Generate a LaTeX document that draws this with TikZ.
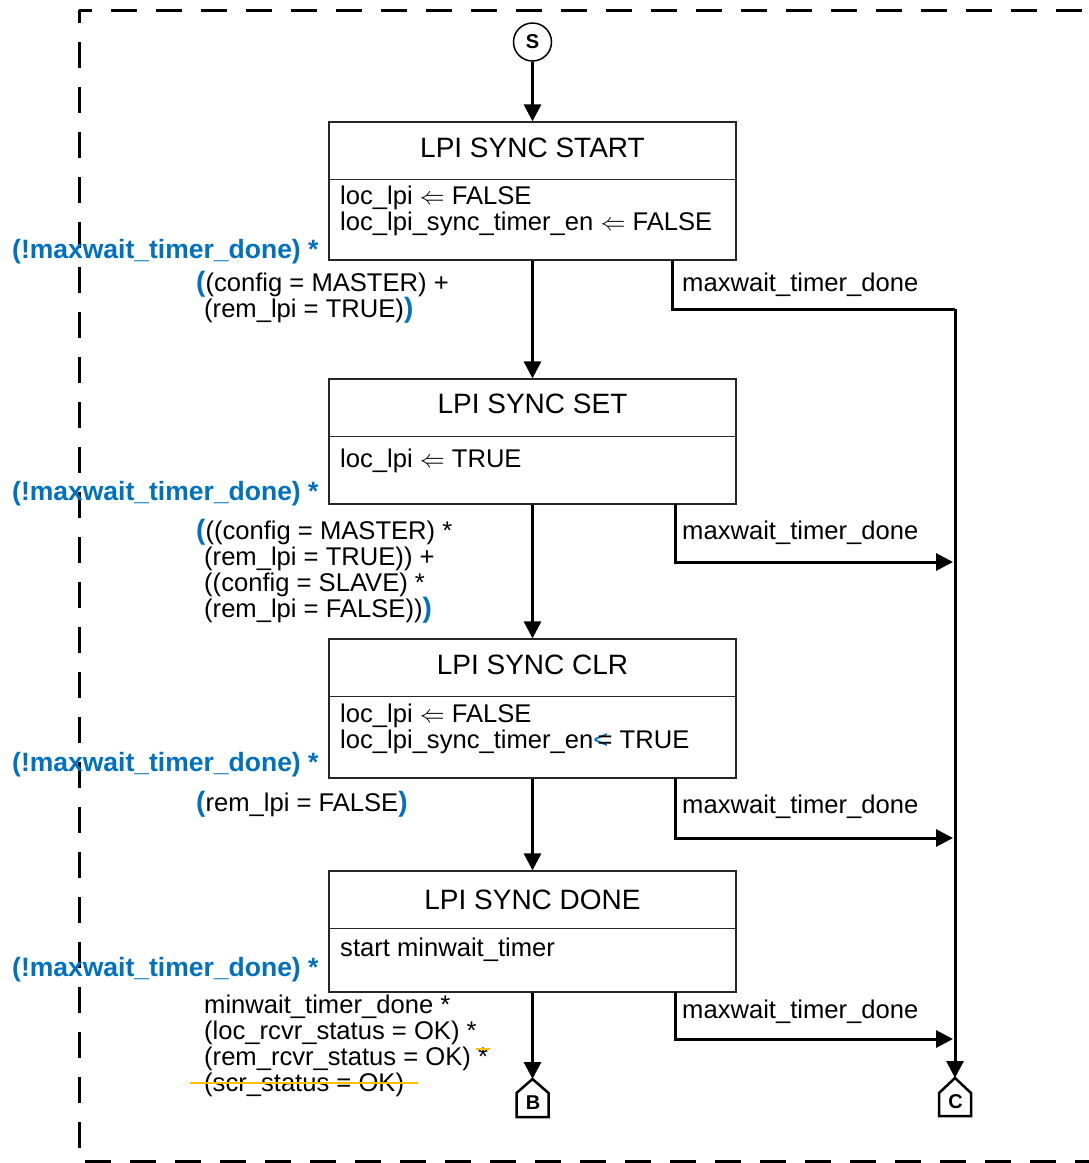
\documentclass[tikz,border=0pt]{standalone}
\usepackage{fontspec}
\setmainfont{Liberation Sans}
\usetikzlibrary{arrows.meta,calc}
\definecolor{cblue}{RGB}{0,112,192}
\definecolor{corange}{RGB}{255,192,0}
\begin{document}
\begin{tikzpicture}[x=1pt,y=-1pt,
  statebox/.style={draw=black!85, line width=1.3pt, minimum width=407pt, inner sep=0},
  divider/.style={draw=black!85, line width=1.3pt},
  titletext/.style={font=\fontsize{28}{32}\selectfont, inner sep=0, anchor=base},
  bodytext/.style={font=\fontsize{25.6}{30}\selectfont, inner sep=0, anchor=base west},
  guard/.style={font=\fontsize{26.5}{30}\selectfont\bfseries, text=cblue, inner sep=0, anchor=base west},
  conn/.style={line width=3pt, -{Triangle[width=17pt,length=17pt]}},
  wire/.style={line width=3pt},
  frame/.style={line width=3pt, dash pattern=on 26pt off 19pt, dash phase=13pt},
  strike/.style={draw=corange, line width=2.5pt},
  offpage/.style={draw, line width=2.5pt, fill=white, line join=miter}
]
\useasboundingbox (0,0) rectangle (1089,1163);

% dashed enclosure
\draw[frame] (79,10) -- (1110,10);
\draw[frame] (79,10) -- (79,1161) -- (1110,1161);

% start marker
\node[circle, draw, line width=1.5pt, minimum size=38pt, inner sep=0,
      font=\fontsize{20}{22}\selectfont\bfseries] (s) at (532.5,42) {S};

% states
\node[statebox, minimum height=138pt] (b1) at (532.5,191) {};
\node[statebox, minimum height=125pt] (b2) at (532.5,441.5) {};
\node[statebox, minimum height=139pt] (b3) at (532.5,708.5) {};
\node[statebox, minimum height=121pt] (b4) at (532.5,931.5) {};

\draw[divider] ($(b1.north west)+(0,58)$) -- ($(b1.north east)+(0,58)$);
\draw[divider] ($(b2.north west)+(0,58)$) -- ($(b2.north east)+(0,58)$);
\draw[divider] ($(b3.north west)+(0,58)$) -- ($(b3.north east)+(0,58)$);
\draw[divider] ($(b4.north west)+(0,58)$) -- ($(b4.north east)+(0,58)$);

\node[titletext] (t1) at (532.5,157) {LPI SYNC START};
\node[titletext] (t2) at (532.5,413) {LPI SYNC SET};
\node[titletext] (t3) at (532.5,674) {LPI SYNC CLR};
\node[titletext] (t4) at (532.5,909) {LPI SYNC DONE};

\node[bodytext] (a11) at (340,204) {loc\_lpi $\Leftarrow$ FALSE};
\node[bodytext] (a12) at (340,230) {loc\_lpi\_sync\_timer\_en $\Leftarrow$ FALSE};
\node[bodytext] (a21) at (340,467) {loc\_lpi $\Leftarrow$ TRUE};
\node[bodytext] (a31) at (340,722) {loc\_lpi $\Leftarrow$ FALSE};
\node[bodytext] (a32) at (340,748) {loc\_lpi\_sync\_timer\_en\textcolor{cblue}{<}\kern-0.42em= TRUE};
\node[bodytext] (a41) at (340,956) {start minwait\_timer};

% off-page connectors
\coordinate (Btop) at (532.5,1079);
\coordinate (Ctop) at (955,1078);
\draw[offpage] (Btop) -- (548.5,1093) -- (548.5,1117) -- (516.5,1117) -- (516.5,1093) -- cycle;
\draw[offpage] (Ctop) -- (971,1093) -- (971,1116) -- (939,1116) -- (939,1093) -- cycle;
\node[font=\fontsize{20}{22}\selectfont\bfseries, inner sep=0] (Blab) at (533,1103) {B};
\node[font=\fontsize{20}{22}\selectfont\bfseries, inner sep=0] (Clab) at (955.5,1102) {C};

% main transitions
\draw[conn] (s) -- (b1);
\draw[conn] (b1) -- (b2);
\draw[conn] (b2) -- (b3);
\draw[conn] (b3) -- (b4);
\draw[conn] (b4) -- (Btop);

% timeout transitions
\coordinate (x1) at (672,260);
\coordinate (x2) at (675,504);
\coordinate (x3) at (675,778);
\coordinate (x4) at (675,992);
\coordinate (bus) at (955,309);
\coordinate (j2) at (953,562);
\coordinate (j3) at (953,838);
\coordinate (j4) at (953,1039);
\draw[wire, line join=miter] (x1) |- (bus);
\draw[conn] (bus) -- (Ctop);
\draw[conn, line join=miter] (x2) |- (j2);
\draw[conn, line join=miter] (x3) |- (j3);
\draw[conn, line join=miter] (x4) |- (j4);

\node[bodytext] (m1) at (682,291) {maxwait\_timer\_done};
\node[bodytext] (m2) at (682,539) {maxwait\_timer\_done};
\node[bodytext] (m3) at (682,813) {maxwait\_timer\_done};
\node[bodytext] (m4) at (682,1018) {maxwait\_timer\_done};

% guards
\node[guard] (g1) at (12,258) {(!maxwait\_timer\_done) *};
\node[guard] (g2) at (12,500) {(!maxwait\_timer\_done) *};
\node[guard] (g3) at (12,771) {(!maxwait\_timer\_done) *};
\node[guard] (g4) at (12,976) {(!maxwait\_timer\_done) *};

\newcommand{\bparen}[1]{\textcolor{cblue}{\fontsize{28}{30}\selectfont\bfseries #1}}

\node[bodytext] (c11) at (196,291) {\bparen{(}(config = MASTER) +};
\node[bodytext] (c12) at (204,317) {(rem\_lpi = TRUE)\bparen{)}};

\node[bodytext] (c21) at (196,539) {\bparen{(}((config = MASTER) *};
\node[bodytext] (c22) at (204,565) {(rem\_lpi = TRUE)) +};
\node[bodytext] (c23) at (204,591) {((config = SLAVE) *};
\node[bodytext] (c24) at (204,617) {(rem\_lpi = FALSE))\bparen{)}};

\node[bodytext] (c31) at (196,811) {\bparen{(}rem\_lpi = FALSE\bparen{)}};

\node[bodytext] (c41) at (204,1013) {minwait\_timer\_done *};
\node[bodytext] (c42) at (204,1039) {(loc\_rcvr\_status = OK) *};
\node[bodytext] (c43) at (204,1065) {(rem\_rcvr\_status = OK) *};
\node[bodytext] (c44) at (204,1091) {(scr\_status = OK)};

% struck-out terms
\draw[strike] (476,1049) -- (490,1049);
\draw[strike] (190,1083) -- (418,1083);
\end{tikzpicture}
\end{document}
